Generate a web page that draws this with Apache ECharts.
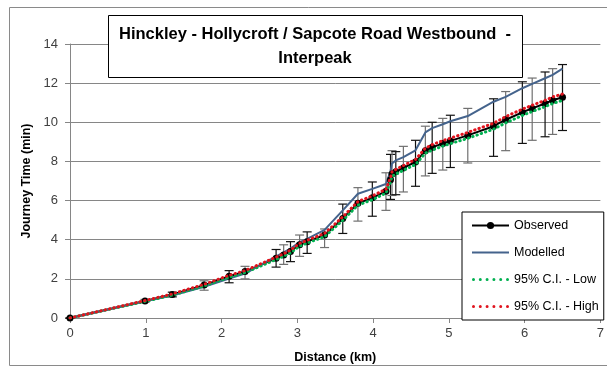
<!DOCTYPE html>
<html><head><meta charset="utf-8">
<script src="https://cdn.jsdelivr.net/npm/echarts@6/dist/echarts.min.js"></script>
<style>html,body{margin:0;padding:0;background:#fff}#c{width:607px;height:369px}</style>
</head><body><div id="c"></div>
<script>
const titleLines = ['Hinckley - Hollycroft / Sapcote Road Westbound  -', 'Interpeak'];
const xTicks = [0,1,2,3,4,5,6,7];
const yTicks = [0,2,4,6,8,10,12,14];
const distance = [0,0.99,1.35,1.77,2.10,2.31,2.72,2.82,2.91,3.03,3.13,3.36,3.60,3.80,3.99,4.17,4.23,4.25,4.30,4.40,4.56,4.69,4.78,4.92,5.02,5.25,5.59,5.75,5.97,6.10,6.27,6.37,6.50];
const observed = [0,0.87,1.20,1.68,2.13,2.37,3.05,3.22,3.40,3.74,3.90,4.24,5.08,5.86,6.14,6.48,7.06,7.36,7.47,7.67,7.97,8.55,8.72,8.92,9.05,9.33,9.80,10.13,10.51,10.71,10.96,11.13,11.28];
const errLow = [0,0.80,1.08,1.42,1.80,2.00,2.60,2.74,2.88,3.15,3.30,3.60,4.32,4.95,5.20,5.50,6.06,6.26,6.30,6.44,6.73,7.26,7.39,7.56,7.69,7.92,8.26,8.55,8.92,9.08,9.26,9.38,9.58];
const errHigh = [0,0.95,1.32,1.90,2.42,2.64,3.50,3.74,3.90,4.24,4.40,4.55,5.82,6.66,6.95,7.42,8.36,8.55,8.50,8.77,9.08,9.80,10.00,10.20,10.36,10.71,11.20,11.57,12.07,12.26,12.57,12.74,12.95];
const modelled = [0,0.85,1.15,1.60,2.02,2.27,3.15,3.35,3.55,3.88,4.04,4.50,5.50,6.35,6.60,6.85,7.50,7.90,8.05,8.22,8.57,9.48,9.70,9.90,10.05,10.32,11.05,11.30,11.74,11.96,12.25,12.42,12.74];
const ciLow = [0,0.85,1.17,1.64,2.08,2.32,2.99,3.16,3.33,3.67,3.83,4.16,4.99,5.77,6.04,6.38,6.95,7.25,7.35,7.55,7.84,8.42,8.58,8.78,8.91,9.18,9.65,9.97,10.35,10.55,10.80,10.96,11.12];
const ciHigh = [0,0.89,1.23,1.72,2.18,2.42,3.11,3.28,3.47,3.81,3.97,4.32,5.17,5.95,6.24,6.58,7.17,7.47,7.59,7.79,8.10,8.68,8.86,9.06,9.19,9.48,9.95,10.29,10.67,10.87,11.12,11.30,11.44];
const seriesNames = ['Observed','Modelled','95% C.I. - Low','95% C.I. - High'];

const pair = (ys) => distance.map((d, i) => [d, ys[i]]);
const errData = distance.map((d, i) => [d, errLow[i], errHigh[i]]);
const FONT = '"Liberation Sans",Arial,sans-serif';

// legend icons
const solidIcon = 'path://M0,0L37,0L37,2L0,2Z';
let dots = '';
for (let k = 0; k < 6; k++) { const x = k * 6.8; dots += 'M' + x + ',1.5a1.5,1.5 0 1,0 3,0a1.5,1.5 0 1,0 -3,0Z'; }
const dotIcon = 'path://' + dots;

const chart = echarts.init(document.getElementById('c'), null, {renderer: 'canvas'});
chart.setOption({
  animation: false,
  backgroundColor: '#fff',
  textStyle: {fontFamily: FONT},
  grid: {left: 70, right: 1, top: 44, bottom: 44},
  graphic: [
    {type: 'rect', shape: {x: 9.5, y: 7.5, width: 640, height: 358}, style: {fill: 'none', stroke: '#8a8a8a', lineWidth: 1}, z: -10, silent: true},
    {type: 'rect', shape: {x: 108.5, y: 15.5, width: 414, height: 62}, style: {fill: '#fff', stroke: '#000', lineWidth: 1}, z: 100},
    {type: 'text', style: {x: 315, y: 34, text: titleLines[0], align: 'center', verticalAlign: 'middle', font: 'bold 16.5px ' + FONT, fill: '#000'}, z: 101},
    {type: 'text', style: {x: 315, y: 58, text: titleLines[1], align: 'center', verticalAlign: 'middle', font: 'bold 16.5px ' + FONT, fill: '#000'}, z: 101}
  ],
  legend: {
    data: [
      {name: seriesNames[0]},
      {name: seriesNames[1], icon: solidIcon},
      {name: seriesNames[2], icon: dotIcon},
      {name: seriesNames[3], icon: dotIcon}
    ],
    orient: 'vertical',
    left: 462, top: 212,
    padding: [7, 5, 7, 9],
    itemGap: 14,
    itemWidth: 37, itemHeight: 9,
    symbolKeepAspect: true,
    backgroundColor: '#fff',
    borderColor: '#000', borderWidth: 1, borderRadius: 0,
    textStyle: {fontSize: 12.5, color: '#000', fontFamily: FONT},
    z: 50
  },
  xAxis: {
    type: 'value', min: 0, max: 7, interval: 1,
    name: 'Distance (km)', nameLocation: 'middle', nameGap: 33,
    nameTextStyle: {fontWeight: 'bold', fontSize: 12.5, color: '#000'},
    axisLine: {lineStyle: {color: '#868686'}},
    axisTick: {show: true, length: 5, lineStyle: {color: '#868686'}},
    axisLabel: {fontSize: 13, color: '#404040', margin: 9, formatter: (v) => xTicks.includes(v) ? String(v) : ''},
    splitLine: {show: false}
  },
  yAxis: {
    type: 'value', min: 0, max: 14, interval: 2,
    name: 'Journey Time (min)', nameLocation: 'middle', nameGap: 31,
    nameTextStyle: {fontWeight: 'bold', fontSize: 12.5, color: '#000'},
    axisLine: {show: true, lineStyle: {color: '#868686'}},
    axisTick: {show: true, length: 5, lineStyle: {color: '#868686'}},
    axisLabel: {fontSize: 13, color: '#404040', margin: 12, formatter: (v) => yTicks.includes(v) ? String(v) : ''},
    splitLine: {lineStyle: {color: '#868686', width: 1}}
  },
  series: [
    {
      type: 'custom', name: 'err', data: errData, z: 2,
      renderItem: (params, api) => {
        const x = api.value(0);
        const lo = api.coord([x, api.value(1)]);
        const hi = api.coord([x, api.value(2)]);
        const c = params.dataIndex % 2 === 0 ? '#111' : '#707070';
        const hw = 4.5;
        return {type: 'group', children: [
          {type: 'line', shape: {x1: lo[0], y1: lo[1], x2: hi[0], y2: hi[1]}, style: {stroke: c, lineWidth: 1.2}},
          {type: 'line', shape: {x1: lo[0]-hw, y1: lo[1], x2: lo[0]+hw, y2: lo[1]}, style: {stroke: c, lineWidth: 1.2}},
          {type: 'line', shape: {x1: hi[0]-hw, y1: hi[1], x2: hi[0]+hw, y2: hi[1]}, style: {stroke: c, lineWidth: 1.2}}
        ]};
      }
    },
    {name: seriesNames[0], type: 'line', data: pair(observed), z: 3, symbol: 'circle', symbolSize: 7,
      itemStyle: {color: '#000'}, lineStyle: {color: '#000', width: 2}},
    {name: seriesNames[1], type: 'line', data: pair(modelled), z: 3, symbol: 'none',
      itemStyle: {color: '#44638c'}, lineStyle: {color: '#44638c', width: 2}},
    {name: seriesNames[2], type: 'line', data: pair(ciLow), z: 4, symbol: 'none',
      itemStyle: {color: '#00b050'}, lineStyle: {color: '#00b050', width: 3, type: [0.5, 4], cap: 'round'}},
    {name: seriesNames[3], type: 'line', data: pair(ciHigh), z: 5, symbol: 'none',
      itemStyle: {color: '#e0141e'}, lineStyle: {color: '#e0141e', width: 3, type: [0.5, 4], cap: 'round'}}
  ]
});
</script>
</body></html>
